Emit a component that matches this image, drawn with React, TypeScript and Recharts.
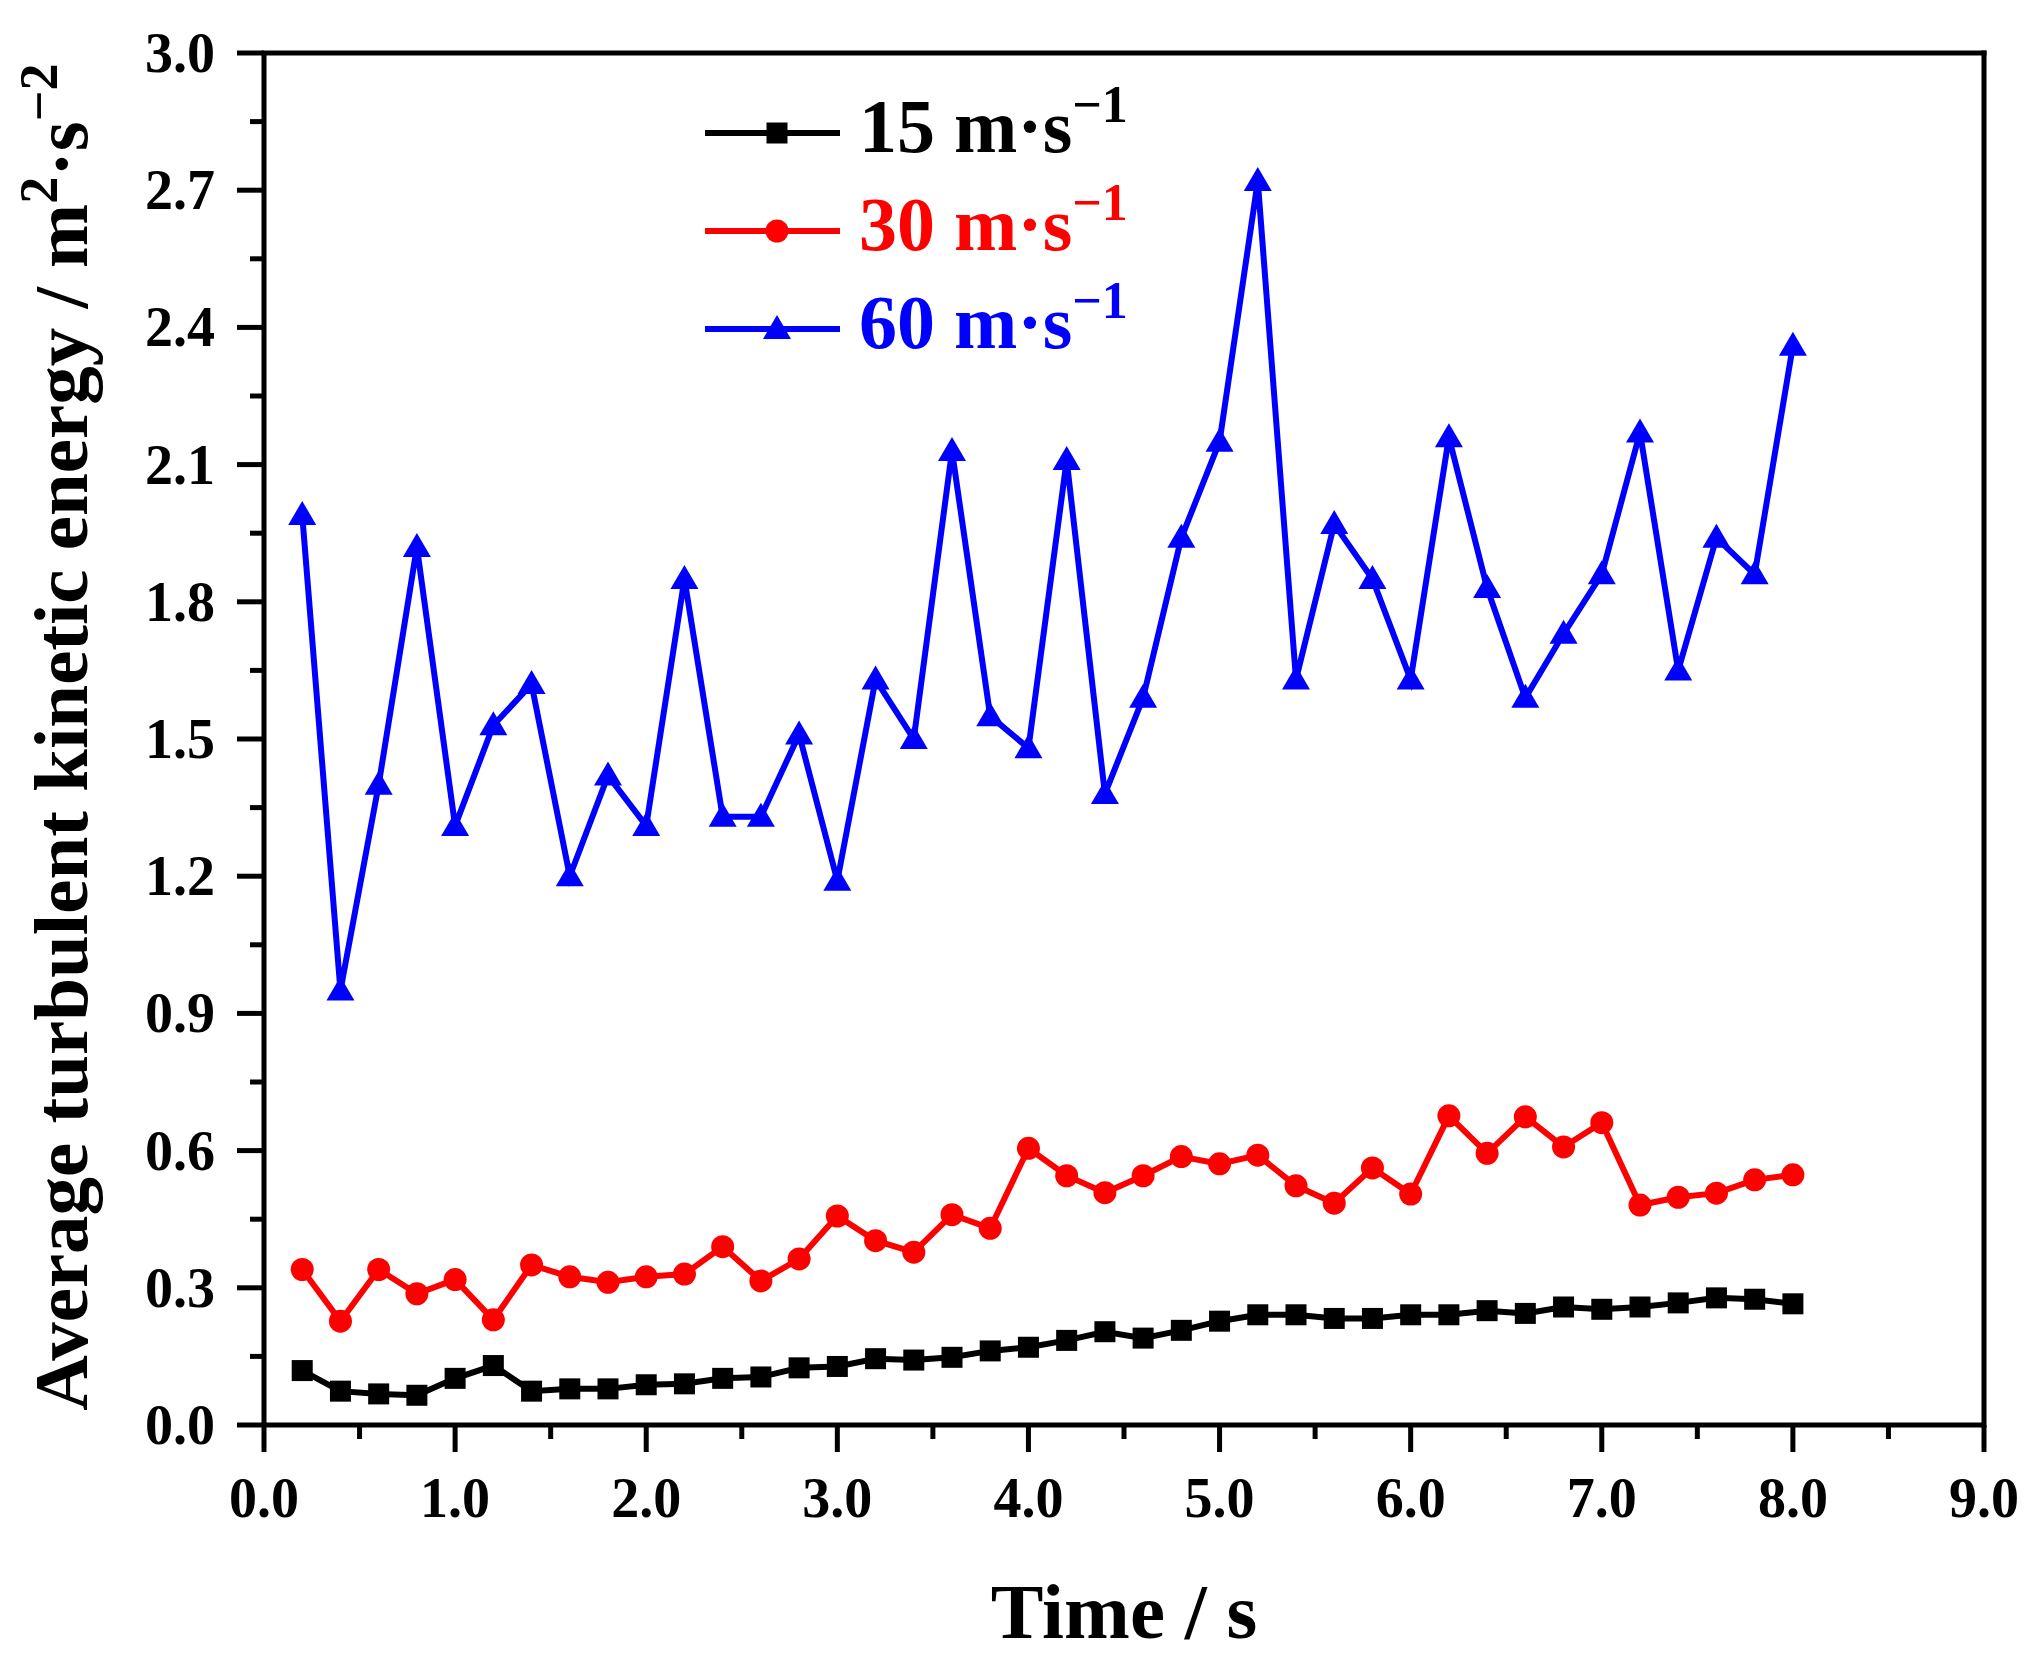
import React from 'react';
import { LineChart, Line, XAxis, YAxis, ReferenceLine, Legend } from 'recharts';

const time = [
  0.2, 0.4, 0.6, 0.8, 1.0, 1.2, 1.4, 1.6, 1.8, 2.0,
  2.2, 2.4, 2.6, 2.8, 3.0, 3.2, 3.4, 3.6, 3.8, 4.0,
  4.2, 4.4, 4.6, 4.8, 5.0, 5.2, 5.4, 5.6, 5.8, 6.0,
  6.2, 6.4, 6.6, 6.8, 7.0, 7.2, 7.4, 7.6, 7.8, 8.0,
];

const k15 = [
  0.119, 0.074, 0.068, 0.065, 0.102, 0.13, 0.074, 0.079, 0.079, 0.088,
  0.09, 0.102, 0.105, 0.125, 0.128, 0.145, 0.142, 0.148, 0.162, 0.17,
  0.185, 0.204, 0.19, 0.207, 0.227, 0.241, 0.241, 0.233, 0.233, 0.241,
  0.241, 0.25, 0.244, 0.258, 0.253, 0.258, 0.267, 0.278, 0.275, 0.265,
];

const k30 = [
  0.34, 0.227, 0.34, 0.287, 0.318, 0.23, 0.35, 0.324, 0.312, 0.324,
  0.33, 0.39, 0.315, 0.363, 0.457, 0.403, 0.378, 0.46, 0.43, 0.605,
  0.545, 0.508, 0.545, 0.587, 0.571, 0.59, 0.523, 0.485, 0.562, 0.505,
  0.676, 0.594, 0.674, 0.608, 0.661, 0.481, 0.498, 0.507, 0.536, 0.547,
];

const k60 = [
  1.99, 0.95, 1.40, 1.92, 1.31, 1.53, 1.62, 1.20, 1.42, 1.31,
  1.85, 1.33, 1.33, 1.51, 1.19, 1.63, 1.50, 2.13, 1.55, 1.48,
  2.11, 1.38, 1.59, 1.94, 2.15, 2.72, 1.63, 1.97, 1.85, 1.63,
  2.16, 1.83, 1.59, 1.73, 1.86, 2.17, 1.65, 1.94, 1.86, 2.36,
];

const xTicks = [0, 0.5, 1, 1.5, 2, 2.5, 3, 3.5, 4, 4.5, 5, 5.5, 6, 6.5, 7, 7.5, 8, 8.5, 9];
const xMajor = [0, 1, 2, 3, 4, 5, 6, 7, 8, 9];
const yTicks = [
  0, 0.15, 0.3, 0.45, 0.6, 0.75, 0.9, 1.05, 1.2, 1.35, 1.5,
  1.65, 1.8, 1.95, 2.1, 2.25, 2.4, 2.55, 2.7, 2.85, 3.0,
];
const yMajor = [0, 0.3, 0.6, 0.9, 1.2, 1.5, 1.8, 2.1, 2.4, 2.7, 3.0];

const data = time.map((t, i) => ({ t, k15: k15[i], k30: k30[i], k60: k60[i] }));

const FONT = '"Liberation Serif", "Times New Roman", serif';

const series = [
  { key: 'k15', speed: '15', color: '#000000', shape: 'square' },
  { key: 'k30', speed: '30', color: '#ff0000', shape: 'circle' },
  { key: 'k60', speed: '60', color: '#0000ff', shape: 'triangle' },
];

function Marker({ shape, x, y, color }: { shape: string; x: number; y: number; color: string }) {
  if (shape === 'square') {
    return <rect x={x - 10.5} y={y - 10.5} width={21} height={21} fill={color} />;
  }
  if (shape === 'circle') {
    return <circle cx={x} cy={y} r={11.5} fill={color} />;
  }
  return <polygon points={`${x},${y - 14} ${x + 14},${y + 10} ${x - 14},${y + 10}`} fill={color} />;
}

const makeDot = (shape: string, color: string) => (props: any) => {
  const { cx, cy, index } = props;
  if (cx == null || cy == null) return <g key={`d-${index}`} />;
  return <Marker key={`d-${index}`} shape={shape} x={cx} y={cy} color={color} />;
};

const XTick = (props: any) => {
  const { x, y, payload } = props;
  const major = xMajor.includes(payload.value);
  return (
    <g>
      <line x1={x} x2={x} y1={y} y2={y + (major ? 27 : 14)} stroke="#000" strokeWidth={5} />
      {major && (
        <text x={x} y={y + 92} textAnchor="middle" fontFamily={FONT} fontWeight="bold" fontSize={56} fill="#000">
          {payload.value.toFixed(1)}
        </text>
      )}
    </g>
  );
};

const YTick = (props: any) => {
  const { x, y, payload } = props;
  const major = yMajor.includes(payload.value);
  return (
    <g>
      <line x1={x} x2={x - (major ? 27 : 14)} y1={y} y2={y} stroke="#000" strokeWidth={5} />
      {major && (
        <text x={x - 49} y={y + 19} textAnchor="end" fontFamily={FONT} fontWeight="bold" fontSize={56} fill="#000">
          {payload.value.toFixed(1)}
        </text>
      )}
    </g>
  );
};

const XTitle = (p: any) => {
  const vb = p.viewBox;
  return (
    <text x={vb.x + vb.width / 2} y={1638} textAnchor="middle" fontFamily={FONT} fontWeight="bold" fontSize={79} fill="#000">
      Time / s
    </text>
  );
};

const YTitle = (p: any) => {
  const vb = p.viewBox;
  const cy = vb.y + vb.height / 2 - 2;
  const cx = 87;
  return (
    <text
      x={cx}
      y={cy}
      transform={`rotate(-90, ${cx}, ${cy})`}
      textAnchor="middle"
      fontFamily={FONT}
      fontWeight="bold"
      fontSize={77}
      fill="#000"
    >
      Average turbulent kinetic energy / m
      <tspan fontSize={54} dy={-30}>2</tspan>
      <tspan dy={30}>·s</tspan>
      <tspan fontSize={54} dy={-30}>−2</tspan>
    </text>
  );
};

const LegendBox = () => (
  <svg width={520} height={320} style={{ display: 'block' }}>
    {series.map((s, i) => {
      const cy = 73 + i * 98;
      return (
        <g key={s.key}>
          <line x1={5} x2={140} y1={cy} y2={cy} stroke={s.color} strokeWidth={6} />
          <Marker shape={s.shape} x={77} y={cy} color={s.color} />
          <text x={159} y={cy + 19} fontFamily={FONT} fontWeight="bold" fontSize={76} fill={s.color}>
            {s.speed} m·s
            <tspan fontSize={52} dy={-30}>−1</tspan>
          </text>
        </g>
      );
    })}
  </svg>
);

export default function App() {
  return (
    <div style={{ position: 'absolute', left: 0, top: 0, width: 2037, height: 1666, background: '#fff' }}>
      <LineChart width={2037} height={1666} data={data} margin={{ top: 53, right: 53, left: 0, bottom: 0 }}>
        <XAxis
          dataKey="t"
          type="number"
          domain={[0, 9]}
          ticks={xTicks}
          interval={0}
          allowDataOverflow
          height={241}
          tickLine={false}
          tickSize={0}
          tickMargin={0}
          axisLine={{ stroke: '#000', strokeWidth: 5 }}
          tick={<XTick />}
          label={<XTitle />}
        />
        <YAxis
          type="number"
          domain={[0, 3]}
          ticks={yTicks}
          interval={0}
          allowDataOverflow
          width={264}
          tickLine={false}
          tickSize={0}
          tickMargin={0}
          axisLine={{ stroke: '#000', strokeWidth: 5 }}
          tick={<YTick />}
          label={<YTitle />}
        />
        <ReferenceLine y={3} stroke="#000" strokeWidth={5} strokeLinecap="square" />
        <ReferenceLine x={9} stroke="#000" strokeWidth={5} strokeLinecap="square" />
        <Legend
          layout="vertical"
          align="center"
          verticalAlign="middle"
          content={<LegendBox />}
          wrapperStyle={{ position: 'absolute', left: 700, top: 60, width: 520, height: 320 }}
        />
        {series.map((s) => (
          <Line
            key={s.key}
            dataKey={s.key}
            type="linear"
            stroke={s.color}
            strokeWidth={6}
            dot={makeDot(s.shape, s.color)}
            activeDot={false}
            isAnimationActive={false}
          />
        ))}
      </LineChart>
    </div>
  );
}
